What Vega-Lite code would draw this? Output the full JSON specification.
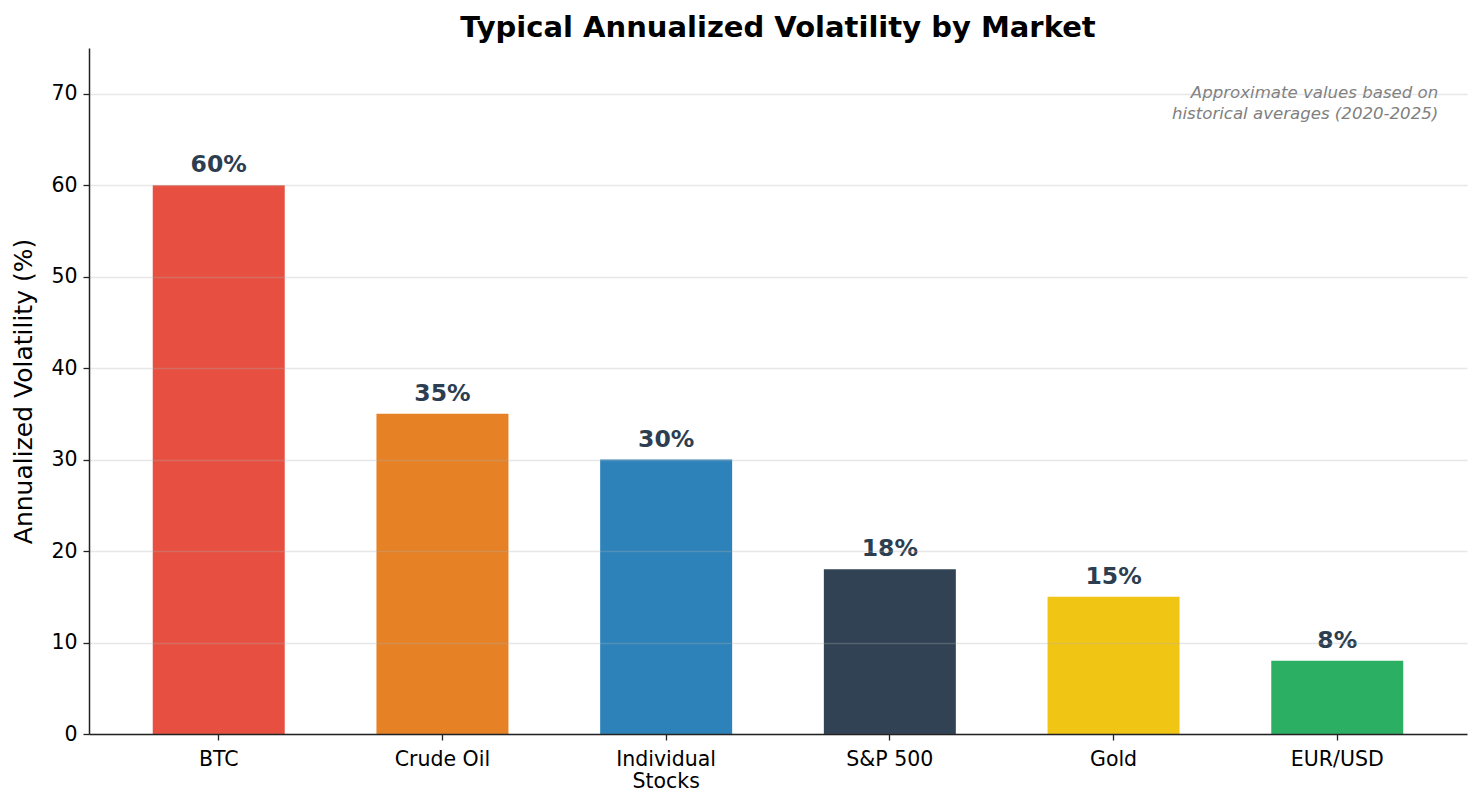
{
  "$schema": "https://vega.github.io/schema/vega-lite/v6.json",
  "autosize": {"type": "none"},
  "width": 1378,
  "height": 686,
  "padding": {"left": 89, "top": 48, "right": 15, "bottom": 73},
  "background": "white",
  "config": {
    "view": {"stroke": null},
    "font": "DejaVu Sans"
  },
  "title": {
    "text": "Typical Annualized Volatility by Market",
    "fontSize": 29,
    "fontWeight": "bold",
    "font": "DejaVu Sans",
    "color": "black",
    "anchor": "middle",
    "offset": 5
  },
  "data": {
    "values": [
      {"market": "BTC", "vol": 60, "label": "60%", "color": "#e74c3c"},
      {"market": "Crude Oil", "vol": 35, "label": "35%", "color": "#e67e22"},
      {"market": "Individual Stocks", "vol": 30, "label": "30%", "color": "#2980b9"},
      {"market": "S&P 500", "vol": 18, "label": "18%", "color": "#2c3e50"},
      {"market": "Gold", "vol": 15, "label": "15%", "color": "#f1c40f"},
      {"market": "EUR/USD", "vol": 8, "label": "8%", "color": "#27ae60"}
    ]
  },
  "encoding": {
    "x": {
      "field": "market",
      "type": "nominal",
      "sort": null,
      "scale": {"paddingInner": 0.41, "paddingOuter": 0.285},
      "axis": {
        "title": null,
        "labelAngle": 0,
        "labelFontSize": 20.5,
        "labelColor": "black",
        "labelFont": "DejaVu Sans",
        "labelPadding": 9,
        "labelLineHeight": 22,
        "labelExpr": "datum.label == 'Individual Stocks' ? ['Individual', 'Stocks'] : datum.label",
        "domainColor": "#222222",
        "domainWidth": 1.5,
        "tickColor": "#222222",
        "tickSize": 6,
        "tickWidth": 1.3,
        "grid": false,
        "zindex": 1
      }
    },
    "y": {
      "field": "vol",
      "type": "quantitative",
      "scale": {"domain": [0, 75], "nice": false},
      "axis": {
        "title": "Annualized Volatility (%)",
        "titleFontSize": 25,
        "titleFont": "DejaVu Sans",
        "titleFontWeight": "normal",
        "titleColor": "black",
        "titlePadding": 14,
        "values": [0, 10, 20, 30, 40, 50, 60, 70],
        "labelFontSize": 20.5,
        "labelColor": "black",
        "labelFont": "DejaVu Sans",
        "labelPadding": 6,
        "domainColor": "#222222",
        "domainWidth": 1.5,
        "tickColor": "#222222",
        "tickSize": 6,
        "tickWidth": 1.3,
        "grid": true,
        "gridColor": "#b0b0b0",
        "gridOpacity": 0.3,
        "gridWidth": 1.3,
        "zindex": 1
      }
    }
  },
  "layer": [
    {
      "mark": {"type": "bar", "opacity": 0.98},
      "encoding": {
        "color": {"field": "color", "type": "nominal", "scale": null, "legend": null}
      }
    },
    {
      "mark": {
        "type": "text",
        "fontSize": 23.5,
        "fontWeight": "bold",
        "font": "DejaVu Sans",
        "color": "#2c3e50",
        "baseline": "alphabetic",
        "dy": -13
      },
      "encoding": {
        "text": {"field": "label", "type": "nominal"}
      }
    },
    {
      "data": {"values": [{"note": ["Approximate values based on", "historical averages (2020-2025)"], "market": "EUR/USD", "yv": 70.96}]},
      "mark": {
        "type": "text",
        "fontSize": 16.6,
        "fontStyle": "italic",
        "font": "DejaVu Sans",
        "color": "#808080",
        "align": "right",
        "baseline": "top",
        "lineHeight": 21,
        "dx": 101
      },
      "encoding": {
        "x": {"field": "market", "type": "nominal"},
        "y": {"field": "yv", "type": "quantitative"},
        "text": {"field": "note"}
      }
    }
  ]
}
